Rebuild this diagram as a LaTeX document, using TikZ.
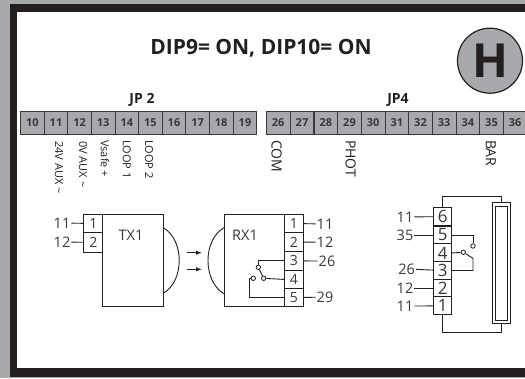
\documentclass[tikz,border=0pt]{standalone}
\usepackage{xcolor}
\usepackage{fontspec}
\setmainfont{Open Sans}
\usepackage{tikz}
\usetikzlibrary{arrows,calc}
\definecolor{panelgray}{HTML}{A7A9AC}
\definecolor{inkdark}{HTML}{231F20}
\definecolor{inksoft}{HTML}{3A3839}
\tikzset{
  jpcell/.style={draw=inksoft, fill=panelgray, line width=0.9pt, minimum width=23.5pt, minimum height=22.5pt, inner sep=0pt, text=inksoft, font=\bfseries\fontsize{11}{12}\selectfont},
  pincell/.style={draw=inkdark, fill=white, line width=0.9pt, minimum width=19pt, inner sep=0pt, text=inksoft, font=\fontsize{14}{14}\selectfont},
  bigpin/.style={pincell, minimum width=18pt, minimum height=18pt, font=\fontsize{17}{17}\selectfont},
  block/.style={draw=inkdark, line width=0.9pt, inner sep=0pt},
  pinlabel/.style={text=inksoft, inner sep=1pt, font=\fontsize{14.5}{15}\selectfont},
  sidetext/.style={rotate=-90, anchor=west, inner sep=0pt, text=inkdark, font=\fontsize{11}{11}\selectfont},
  bigside/.style={sidetext, font=\fontsize{14}{14}\selectfont},
  contact/.style={circle, draw=inkdark, fill=white, line width=0.8pt, minimum size=4.4pt, inner sep=0pt},
  wire/.style={draw=inkdark, line width=0.9pt},
}
\begin{document}
\begin{tikzpicture}[x=1pt, y=-1pt]
    %Values
    \def\jpy{122.8}

    \clip (0,0) rectangle (525,378);
    \fill[panelgray] (0,0) rectangle (525,378);
    \fill[inkdark] (10,4) rectangle (525,377);
    \fill[white] (17,12) rectangle (525,368);

    % Titles
    \node[text=inkdark, font=\bfseries\fontsize{21}{21}\selectfont] (title) at (261,48) {DIP9= ON, DIP10= ON};
    \node[circle, draw=inkdark, fill=panelgray, line width=1.2pt, minimum size=65pt, inner sep=0pt] (hbadge) at (490,60.7) {};
    \node[text=inkdark, font=\bfseries\fontsize{47}{47}\selectfont] (hletter) at (hbadge.center) {H};
    \node[text=inkdark, font=\bfseries\fontsize{14}{14}\selectfont] (jptwo) at (142,100) {JP 2};
    \node[text=inkdark, font=\bfseries\fontsize{14}{14}\selectfont] (jpfour) at (398,100) {JP4};

    % JP 2
    \node[jpcell] (t10) at (32.3,\jpy) {10};
    \node[jpcell] (t11) at (56,\jpy) {11};
    \node[jpcell] (t12) at (79.6,\jpy) {12};
    \node[jpcell] (t13) at (103.2,\jpy) {13};
    \node[jpcell] (t14) at (126.8,\jpy) {14};
    \node[jpcell] (t15) at (150.4,\jpy) {15};
    \node[jpcell] (t16) at (174,\jpy) {16};
    \node[jpcell] (t17) at (197.6,\jpy) {17};
    \node[jpcell] (t18) at (221.2,\jpy) {18};
    \node[jpcell] (t19) at (245,\jpy) {19};

    % JP4
    \node[jpcell] (t26) at (278.2,\jpy) {26};
    \node[jpcell] (t27) at (302,\jpy) {27};
    \node[jpcell] (t28) at (325.8,\jpy) {28};
    \node[jpcell] (t29) at (349.5,\jpy) {29};
    \node[jpcell] (t30) at (373.2,\jpy) {30};
    \node[jpcell] (t31) at (396.9,\jpy) {31};
    \node[jpcell] (t32) at (420.5,\jpy) {32};
    \node[jpcell] (t33) at (444.2,\jpy) {33};
    \node[jpcell] (t34) at (467.9,\jpy) {34};
    \node[jpcell] (t35) at (491.5,\jpy) {35};
    \node[jpcell] (t36) at (515.2,\jpy) {36};

    % Side texts
    \node[sidetext] (s11) at (59,141) {24V AUX \textasciitilde};
    \node[sidetext] (s12) at (83,141) {0V AUX \textasciitilde};
    \node[sidetext] (s13) at (105,140) {Vsafe +};
    \node[sidetext] (s14) at (126.7,140) {LOOP 1};
    \node[sidetext] (s15) at (149,140) {LOOP 2};
    \node[bigside] (s26) at (276.7,140) {COM};
    \node[bigside] (s29) at (350.7,140) {PHOT};
    \node[bigside] (s35) at (491,140) {BAR};

    % TX1
    \node[block, minimum width=60.3pt, minimum height=92.4pt] (tx) at (132.85,260.5) {};
    \node[pinlabel] (txname) at (131,235) {TX1};
    \node[pincell, minimum height=18.6pt] (txa) at (93.4,223.5) {1};
    \node[pincell, minimum height=19.2pt] (txb) at (93.4,242.4) {2};
    \node[pinlabel] (la) at (62,223) {11};
    \node[pinlabel] (lb) at (62,242) {12};
    \draw[wire] (la) -- (txa);
    \draw[wire] (lb) -- (txb);
    \coordinate (txu) at ($(tx.north east)+(0,14)$);
    \coordinate (txd) at ($(tx.south east)+(0,-14)$);
    \draw[wire] (txu) .. controls (184.5,240) and (184.5,281) .. (txd);

    % Arrows
    \coordinate (aa) at (186.7,252.7);
    \coordinate (ab) at (201.7,252.7);
    \coordinate (ac) at (186.7,269.3);
    \coordinate (ad) at (201.7,269.3);
    \draw[wire, -latex] (aa) -- (ab);
    \draw[wire, -latex] (ac) -- (ad);

    % RX1
    \node[block, minimum width=60pt, minimum height=92.4pt] (rx) at (254.3,260.5) {};
    \node[pinlabel] (rxname) at (245,235) {RX1};
    \node[pincell, minimum height=18.4pt] (rxa) at (293.8,223.5) {1};
    \node[pincell, minimum height=19pt] (rxb) at (293.8,242.2) {2};
    \node[pincell, minimum height=18.3pt] (rxc) at (293.8,260.9) {3};
    \node[pincell, minimum height=18.7pt] (rxd) at (293.8,279.4) {4};
    \node[pincell, minimum height=18pt] (rxe) at (293.8,297.7) {5};
    \node[pinlabel] (lc) at (325,224) {11};
    \node[pinlabel] (ld) at (325,242) {12};
    \node[pinlabel] (le) at (327,261) {26};
    \node[pinlabel] (lf) at (325,297) {29};
    \draw[wire] (rxa) -- (lc);
    \draw[wire] (rxb) -- (ld);
    \draw[wire] (rxc) -- (le);
    \draw[wire] (rxe) -- (lf);
    \coordinate (rxu) at ($(rx.north west)+(0,14)$);
    \coordinate (rxl) at ($(rx.south west)+(0,-13.4)$);
    \draw[wire] (rxu) .. controls (202.7,240) and (202.7,281) .. (rxl);
    \node[contact] (ka) at (258.3,267.3) {};
    \node[contact] (kb) at (263.7,278.3) {};
    \node[contact] (kc) at (253.3,278.3) {};
    \coordinate (kl) at (249,278.3);
    \draw[wire] (rxc.west) -| (ka.north);
    \draw[wire] (ka) -- (kb);
    \draw[wire] (kb) -- (rxd.west);
    \draw[wire] (kc) -- (kl) |- (rxe.west);

    % Barrier
    \node[block, minimum width=17.3pt, minimum height=121.4pt] (barouter) at (501.35,263) {};
    \node[block, minimum width=12.4pt, minimum height=114pt] (barinner) at (501.5,263) {};
    \node[bigpin] (pf) at (442.7,216.6) {6};
    \node[bigpin] (pe) at (442.7,235) {5};
    \node[bigpin] (pd) at (442.7,252.9) {4};
    \node[bigpin] (pc) at (442.7,270.5) {3};
    \node[bigpin] (pb) at (442.7,288) {2};
    \node[bigpin] (pa) at (442.7,305.9) {1};
    \node[pinlabel] (lg) at (405,217) {11};
    \node[pinlabel] (lh) at (405,235) {35};
    \node[pinlabel] (li) at (406.7,269) {26};
    \node[pinlabel] (lj) at (405,288) {12};
    \node[pinlabel] (lk) at (405,306) {11};
    \draw[wire] (lg) -- (pf);
    \draw[wire] (lh) -- (pe);
    \draw[wire] (li) -- (pc);
    \draw[wire] (lj) -- (pb);
    \draw[wire] (lk) -- (pa);
    \coordinate (topy) at (0,196);
    \coordinate (boty) at (0,332.7);
    \draw[wire] (pf.north) |- (topy -| barouter.north) -- (barouter.north);
    \draw[wire] (pa.south) |- (boty -| barouter.south) -- (barouter.south);
    \node[contact] (kd) at (473,246) {};
    \node[contact] (ke) at (463.3,252.3) {};
    \coordinate (kf) at (473,258.3);
    \draw[wire] (pe.east) -| (kd.north);
    \draw[wire] (pd.east) -- (ke);
    \draw[wire] (ke) -- (kf) |- (pc.east);
\end{tikzpicture}
\end{document}
